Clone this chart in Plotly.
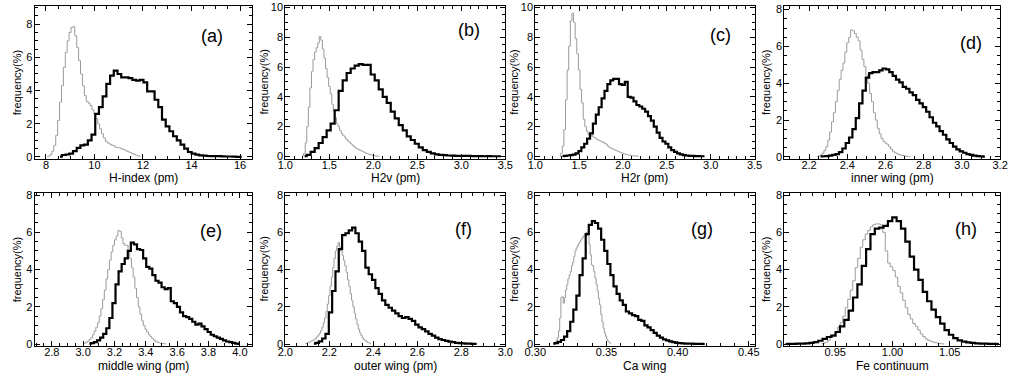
import numpy as np
import plotly.graph_objects as go

# ---------------- data (histograms, frequency in %) ----------------
# (a) H-index (pm)
a_gray_range = [8.05, 11.9]
a_gray = [0.02,0.05,0.15,0.35,0.7,1.3,2.2,3.3,4.3,5.4, 6.3,7.0,7.5,7.8,7.85,7.3,6.6,5.8,5.0,4.3,
          3.7,3.35,3.25,3.1,2.85,2.6,2.3,2.0,1.7,1.4, 1.15,0.95,0.85,0.78,0.72,0.68,0.6,0.58,0.55,0.5,
          0.45,0.42,0.35,0.3,0.25,0.2,0.15,0.1,0.06,0.03]
a_black_range = [8.58, 16.07]
a_black = [0.02,0.12,0.15,0.2,0.35,0.55,0.7,0.75,1.0,1.35, 2.6,3.0,3.65,4.4,4.9,5.2,5.0,4.8,4.8,4.75,
           4.65,4.6,4.65,4.5,3.95,3.95,3.45,3.0,2.25,1.85, 1.55,1.25,1.0,0.75,0.5,0.3,0.2,0.14,0.1,0.08,
           0.06,0.05,0.05,0.05,0.04,0.03,0.03,0.02,0.01,0.01]

# (b) H2v (pm)
b_gray_range = [1.20, 2.07]
b_gray = [0.02,0.2,0.9,2.0,3.3,4.6,5.7,6.5,7.0,7.3, 7.6,8.05,7.8,7.2,6.6,5.9,5.3,4.7,4.2,3.5,
          3.0,2.6,2.2,2.0,1.75,1.55,1.4,1.3,1.15,1.05, 0.95,0.85,0.75,0.65,0.55,0.5,0.45,0.4,0.35,0.3,
          0.25,0.2,0.16,0.12,0.1,0.07,0.05,0.03,0.02,0.01]
b_black_range = [1.22, 3.45]
b_black = [0.02,0.1,0.3,0.55,0.9,1.3,1.75,2.2,3.1,4.4, 5.1,5.6,5.9,6.1,6.2,6.15,6.15,5.5,5.1,4.5,
           4.0,3.6,3.0,2.55,2.1,1.75,1.35,1.1,0.85,0.6, 0.42,0.3,0.2,0.13,0.1,0.08,0.06,0.05,0.04,0.04,
           0.03,0.03,0.02,0.02,0.02,0.01,0.02,0.01,0.01,0.01]

# (c) H2r (pm)
c_gray_range = [1.28, 2.18]
c_gray = [0.02,0.2,0.7,1.8,3.8,5.8,7.4,9.1,9.6,9.0, 7.9,6.9,5.8,4.5,3.6,2.5,2.0,1.7,1.45,1.35,
          1.4,1.3,1.25,1.15,1.1,1.05,1.0,0.95,0.88,0.82, 0.7,0.6,0.55,0.5,0.45,0.4,0.35,0.3,0.26,0.22,
          0.18,0.14,0.11,0.09,0.07,0.05,0.04,0.03,0.02,0.01]
c_black_range = [1.31, 2.93]
c_black = [0.02,0.04,0.06,0.08,0.12,0.2,0.35,0.6,0.85,1.2, 1.55,2.2,2.8,3.3,3.9,4.4,4.85,5.1,5.2,5.2,
           4.85,4.8,5.0,4.0,3.95,3.7,3.45,3.35,3.2,3.0, 2.7,2.4,2.0,1.6,1.25,1.0,0.85,0.6,0.42,0.3,
           0.2,0.13,0.09,0.06,0.04,0.03,0.02,0.02,0.01,0.01]

# (d) inner wing (pm)
d_gray_range = [2.243, 2.731]
d_gray = [0.02,0.05,0.1,0.2,0.35,0.55,0.9,1.35,1.9,2.4, 3.0,3.6,4.2,4.7,5.1,5.7,6.2,6.5,6.9,6.85,
          6.7,6.5,6.3,5.8,5.3,4.9,4.45,4.0,3.45,3.0, 2.4,2.0,1.55,1.25,1.0,0.85,0.75,0.68,0.55,0.42,
          0.3,0.22,0.17,0.12,0.09,0.07,0.05,0.03,0.02,0.01]
d_black_range = [2.26, 3.12]
d_black = [0.02,0.03,0.04,0.06,0.1,0.15,0.25,0.45,0.75,1.05, 1.5,2.1,2.9,3.6,4.3,4.55,4.6,4.6,4.7,4.8,
           4.75,4.6,4.4,4.2,4.05,3.8,3.7,3.5,3.35,3.1, 2.9,2.7,2.45,2.15,1.85,1.65,1.4,1.2,0.95,0.75,
           0.55,0.4,0.3,0.22,0.15,0.1,0.06,0.04,0.02,0.01]

# (e) middle wing (pm)
e_gray_range = [3.0, 3.53]
e_gray = [0.02,0.05,0.1,0.15,0.25,0.35,0.5,0.7,0.9,1.15, 1.5,1.9,2.4,2.9,3.5,4.0,4.5,4.95,5.3,5.6,
          5.8,6.1,6.05,5.7,5.4,5.3,5.3,5.0,4.6,4.1, 3.6,3.0,2.5,2.0,1.6,1.25,1.0,0.8,0.65,0.5,
          0.4,0.3,0.22,0.15,0.1,0.07,0.05,0.03,0.02,0.01]
e_black_range = [3.04, 4.0]
e_black = [0.02,0.05,0.1,0.2,0.35,0.55,0.85,1.4,2.2,3.2, 3.9,4.3,4.6,5.0,5.45,5.35,5.1,5.05,4.6,4.15,
           4.05,3.7,3.4,3.3,3.05,2.95,3.0,2.3,2.2,2.0, 1.7,1.5,1.45,1.35,1.2,1.05,1.1,0.95,0.8,0.65,
           0.5,0.42,0.35,0.28,0.2,0.14,0.1,0.06,0.03,0.01]

# (f) outer wing (pm)
f_gray_range = [2.09, 2.39]
f_gray = [0.02,0.04,0.07,0.1,0.13,0.17,0.2,0.25,0.3,0.38, 0.47,0.58,0.72,0.9,1.15,1.4,1.75,2.15,2.6,3.1,
          3.6,4.1,4.6,5.0,5.25,5.45,5.2,5.0,4.75,4.5, 4.2,3.85,3.45,3.1,2.7,2.35,2.0,1.65,1.35,1.05,
          0.8,0.6,0.45,0.33,0.24,0.17,0.12,0.08,0.05,0.02]
f_black_range = [2.13, 2.87]
f_black = [0.02,0.06,0.15,0.3,0.55,1.7,2.85,3.9,5.1,5.85, 5.95,6.1,6.25,5.95,5.5,5.0,4.1,3.75,3.45,3.0,
           2.7,2.35,2.1,1.95,1.8,1.65,1.5,1.4,1.45,1.35, 1.25,1.05,0.9,0.8,0.68,0.55,0.45,0.35,0.27,0.22,
           0.17,0.13,0.1,0.07,0.05,0.04,0.03,0.02,0.01,0.01]

# (g) Ca wing
g_gray_range = [0.3126, 0.3530]
g_gray = [0.02,0.05,0.1,0.2,0.35,0.7,1.4,2.5,2.55,2.2, 2.5,2.9,3.2,3.5,3.7,3.9,4.2,4.4,4.7,5.0,
          5.15,5.3,5.4,5.5,5.6,5.7,5.8,5.85,5.95,6.0, 5.8,5.35,4.8,4.25,4.2,3.9,3.55,3.2,2.85,2.45,
          2.1,1.6,1.2,0.85,0.6,0.42,0.25,0.15,0.08,0.03]
g_black_range = [0.3126, 0.4190]
g_black = [0.02,0.05,0.12,0.22,0.4,0.7,1.2,1.85,2.6,3.7, 4.6,5.9,6.4,6.6,6.5,6.2,5.6,5.0,4.3,3.7,
           3.1,2.7,2.35,2.1,1.75,1.65,1.55,1.5,1.3,1.25, 1.0,0.9,0.75,0.6,0.45,0.35,0.25,0.2,0.15,0.1,
           0.07,0.05,0.04,0.03,0.02,0.02,0.01,0.01,0.01,0.0]

# (h) Fe continuum
h_gray_range = [0.938, 1.045]
h_gray = [0.02,0.05,0.1,0.2,0.35,0.5,0.65,0.9,1.15,1.5, 1.95,2.4,2.9,3.4,4.1,4.6,5.2,5.6,5.9,6.1,
          6.3,6.4,6.45,6.45,6.4,6.0,5.0,4.35,4.15,3.95, 3.6,3.1,2.75,2.35,1.95,1.6,1.35,1.1,0.95,0.75,
          0.55,0.4,0.28,0.2,0.15,0.1,0.07,0.04,0.02,0.01]
h_black_range = [0.9066, 1.093]
h_black = [0.0,0.01,0.01,0.02,0.03,0.04,0.06,0.1,0.18,0.28, 0.38,0.45,0.65,0.95,1.3,1.8,2.5,3.2,4.2,5.1,
           5.9,6.2,6.25,6.35,6.6,6.8,6.6,6.2,5.5,4.7, 4.0,3.45,2.8,2.3,1.85,1.45,1.1,0.75,0.5,0.32,
           0.2,0.13,0.09,0.06,0.04,0.03,0.02,0.01,0.01,0.0]

panel_labels = ["(a)", "(b)", "(c)", "(d)", "(e)", "(f)", "(g)", "(h)"]
x_titles = ["H-index (pm)", "H2v (pm)", "H2r (pm)", "inner wing (pm)",
            "middle wing (pm)", "outer wing (pm)", "Ca wing", "Fe continuum"]
y_title = "frequency(%)"

series = [
    (a_gray_range, a_gray, a_black_range, a_black),
    (b_gray_range, b_gray, b_black_range, b_black),
    (c_gray_range, c_gray, c_black_range, c_black),
    (d_gray_range, d_gray, d_black_range, d_black),
    (e_gray_range, e_gray, e_black_range, e_black),
    (f_gray_range, f_gray, f_black_range, f_black),
    (g_gray_range, g_gray, g_black_range, g_black),
    (h_gray_range, h_gray, h_black_range, h_black),
]

# ---------------- layout geometry ----------------
W, H = 1015, 376
col_px = [(24, 246), (279.5, 503.7), (534.3, 757.7), (788, 1008)]
row_px = [(2, 158), (193.3, 349)]

x_ranges = [[7.53, 16.51], [1.0, 3.5], [1.0, 3.5], [2.07, 3.2],
            [2.69, 4.08], [2.0, 3.0], [0.30, 0.454], [0.9055, 1.094]]
x_dticks = [2, 0.5, 0.5, 0.2, 0.2, 0.2, 0.05, 0.05]
x_minor = [0.5, 0.1, 0.1, 0.05, 0.05, 0.05, 0.01, 0.01]
x_fmt = ["d", ".1f", ".1f", ".1f", ".1f", ".1f", ".2f", ".2f"]
y_ranges = [[-0.1, 9.1], [-0.15, 10.1], [-0.15, 10.1], [-0.1, 8.2],
            [-0.08, 8.1], [-0.08, 8.1], [-0.08, 8.1], [-0.08, 8.1]]
label_pos = [(0.815, 0.80), (0.835, 0.84), (0.843, 0.81), (0.864, 0.756),
             (0.81, 0.75), (0.808, 0.763), (0.762, 0.763), (0.84, 0.763)]

FONT = "Liberation Sans, Arial, Helvetica, sans-serif"
fig = go.Figure()
annotations = []

for k in range(8):
    r, c = divmod(k, 4)
    xs = "" if k == 0 else str(k + 1)
    gr, gv, br, bv = series[k]
    gx = np.linspace(gr[0], gr[1], len(gv))
    bx = np.linspace(br[0], br[1], len(bv))
    fig.add_trace(go.Scatter(x=gx, y=gv, mode="lines", line=dict(color="#9a9a9a", width=1, shape="hvh"),
                             xaxis="x" + xs, yaxis="y" + xs, showlegend=False, hoverinfo="skip"))
    fig.add_trace(go.Scatter(x=bx, y=bv, mode="lines", line=dict(color="#000000", width=2.2, shape="hvh"),
                             xaxis="x" + xs, yaxis="y" + xs, showlegend=False, hoverinfo="skip"))

    x0, x1 = col_px[c]
    y0, y1 = row_px[r]
    xdom = [x0 / W, x1 / W]
    ydom = [1 - y1 / H, 1 - y0 / H]
    common = dict(showline=True, linecolor="black", linewidth=1, mirror="ticks",
                  ticks="inside", ticklen=5, tickcolor="black", tickwidth=1,
                  showgrid=False, zeroline=False,
                  tickfont=dict(family=FONT, size=11, color="black"))
    fig.layout["xaxis" + xs] = dict(domain=xdom, range=x_ranges[k], anchor="y" + xs,
                                    dtick=x_dticks[k], tick0=0, tickformat=x_fmt[k],
                                    ticklabelstandoff=-4,
                                    minor=dict(dtick=x_minor[k], tick0=0, ticks="inside", ticklen=3,
                                               tickcolor="black", showgrid=False),
                                    **common)
    fig.layout["yaxis" + xs] = dict(domain=ydom, range=y_ranges[k], anchor="x" + xs,
                                    dtick=2, tick0=0, ticklabelstandoff=-1,
                                    minor=dict(dtick=0.5, tick0=0, ticks="inside", ticklen=3,
                                               tickcolor="black", showgrid=False),
                                    **common)
    # panel label
    lx, ly = label_pos[k]
    annotations.append(dict(text=panel_labels[k], x=lx, y=ly, xref="x" + xs + " domain",
                            yref="y" + xs + " domain", showarrow=False, xanchor="center",
                            yanchor="middle", font=dict(family=FONT, size=18, color="black")))
    # x title
    ty = 178 if r == 0 else 370
    annotations.append(dict(text=x_titles[k], x=(x0 + x1) / 2 / W, y=1 - ty / H, xref="paper",
                            yref="paper", showarrow=False, xanchor="center", yanchor="middle",
                            font=dict(family=FONT, size=12, color="black")))
    # y title
    yt_x = [6, 258, 513, 770][c]
    annotations.append(dict(text=y_title, x=yt_x / W, y=1 - (y0 + y1) / 2 / H, xref="paper",
                            yref="paper", showarrow=False, textangle=-90, xanchor="center",
                            yanchor="middle", font=dict(family=FONT, size=11, color="black")))

fig.update_layout(width=W, height=H, margin=dict(l=0, r=0, t=0, b=0),
                  paper_bgcolor="white", plot_bgcolor="white", annotations=annotations)
fig.write_html("out.html", config={"displayModeBar": False},
               post_script="document.body.style.margin='0px';document.body.style.padding='0px';")
